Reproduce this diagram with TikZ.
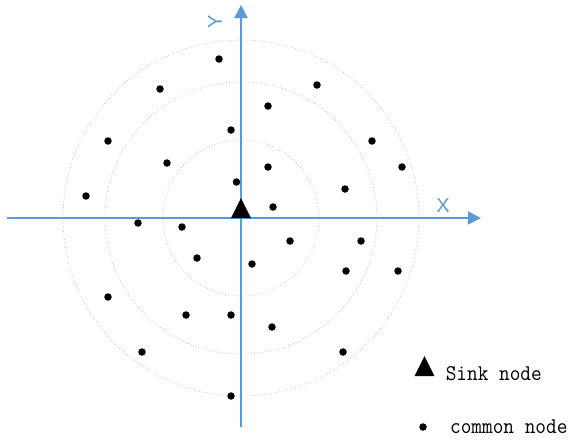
\documentclass[tikz,border=0pt]{standalone}
\usepackage{fontspec}
\setmainfont{Liberation Sans}
\newfontfamily\legendfont[FakeStretch=0.92]{Latin Modern Mono}
\usetikzlibrary{positioning,shapes.geometric,arrows.meta}

\definecolor{axisblue}{RGB}{91,155,213}

\begin{document}
\begin{tikzpicture}[x=1pt, y=-1pt,
  axis/.style={draw=axisblue, line width=1.6pt, -{Triangle[length=13pt,width=13pt]}},
  ring/.style={draw=gray!60, dotted, line width=0.7pt},
  common/.style={circle, fill=black, inner sep=0pt, minimum size=7.5pt},
  sink/.style={isosceles triangle, shape border rotate=90, isosceles triangle apex angle=53,
    fill=black, inner sep=0pt, minimum height=20pt},
  axislabel/.style={text=axisblue, font=\fontsize{20}{20}\selectfont, inner sep=0pt},
  legendtext/.style={font=\legendfont\fontsize{22.5}{22.5}\selectfont, inner sep=0pt, anchor=west}]
\useasboundingbox (0,0) rectangle (570,440);

% Axes
\coordinate (origin) at (241,218);
\coordinate (xleft) at (7,218);
\coordinate (xright) at (481,218);
\coordinate (ybottom) at (241,427);
\coordinate (ytop) at (241,5);

% Rings
\draw[ring] (origin) circle[radius=78];
\draw[ring] (origin) circle[radius=136];
\draw[ring] (origin) circle[radius=178];

\draw[axis] (xleft) -- (xright);
\draw[axis] (ybottom) -- (ytop);
\node (xlabel) [axislabel] at (443,205.5) {X};
\node (ylabel) [axislabel, rotate=90] at (215,22) {Y};

% Common nodes
\foreach \px/\py [count=\i] in {219/59, 160/89, 317/85, 268/106, 231/130, 108/141, 372/141,
    167/163, 268/167, 402/167, 236.5/182, 345/189, 86/196, 273/207, 138/223, 182/227,
    290/241, 361/241, 197/258, 252/264, 346/271, 398/271, 108/297, 186/315, 231/315,
    272/327, 142/352, 343/352, 231/396}
  \node (n\i) [common] at (\px,\py) {};

% Sink
\node (sink) [sink] at (241,212) {};

% Legend
\node (sinkkey) [sink] at (424.5,370) {};
\node (sinktext) [legendtext, right=14pt of sinkkey.east, yshift=-4pt] {Sink node};
\node (commonkey) [common] at (423,427) {};
\node (commontext) [legendtext, right=23pt of commonkey.east] {common node};
\end{tikzpicture}
\end{document}
